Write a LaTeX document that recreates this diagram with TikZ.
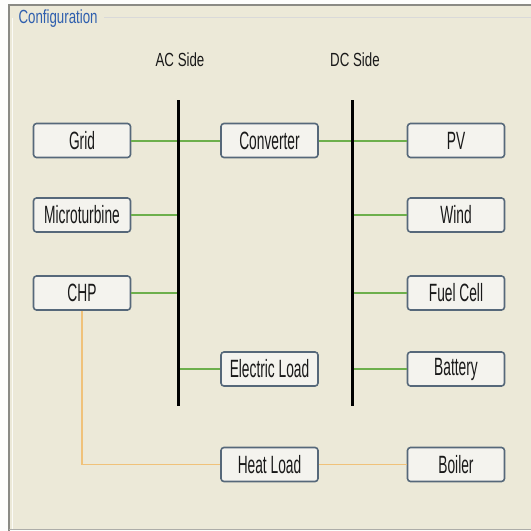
\documentclass[tikz,border=0pt]{standalone}
\usepackage{fontspec}
\setmainfont{Liberation Sans}
\newfontfamily\boxfont[FakeStretch=0.55]{Liberation Sans}
\newfontfamily\hdrfont[FakeStretch=0.7]{Liberation Sans}
\definecolor{panelbg}{HTML}{ECE9D8}
\definecolor{frameline}{HTML}{8A8A84}
\definecolor{boxedge}{HTML}{56687A}
\definecolor{boxfill}{HTML}{F4F3EE}
\definecolor{elecline}{HTML}{6DAF4C}
\definecolor{heatline}{HTML}{F0C27A}
\definecolor{titleblue}{HTML}{2F5FAE}
\tikzset{
  compbox/.style={draw=boxedge, line width=1.6pt, fill=boxfill, rounded corners=3pt,
    minimum width=97pt, minimum height=34pt, inner sep=0pt,
    font=\boxfont\fontsize{25}{25}\selectfont, text=black!90},
  sidelabel/.style={font=\hdrfont\fontsize{19}{19}\selectfont, text=black!90},
  busline/.style={line width=3pt, black},
  elec/.style={elecline, line width=2pt},
  heat/.style={heatline, line width=1.8pt},
}
\begin{document}
\begin{tikzpicture}[x=1pt, y=-1pt]
  % panel background and window frame
  \useasboundingbox (0,0) rectangle (531,531);
  \fill[white!92!panelbg] (0,0) rectangle (531,531);
  \fill[panelbg] (9,5) rectangle (531,529);
  \draw[frameline, line width=2pt] (9,531) -- (9,5) -- (531,5);
  \draw[frameline!70, line width=1pt] (9,529.5) -- (531,529.5);
  \draw[white!80!panelbg, line width=1pt] (12,529) -- (12,18);
  \draw[white!70!gray, line width=1pt] (104,17.5) -- (531,17.5);
  \node[font=\hdrfont\fontsize{19}{19}\selectfont, text=titleblue, anchor=west] (cfg) at (15,19) {Configuration};

  % side headings
  \node[sidelabel] (acside) at (180,60) {AC Side};
  \node[sidelabel] (dcside) at (355,60) {DC Side};

  % bus end points
  \coordinate (acTop) at (178,100);
  \coordinate (acBot) at (178,406);
  \coordinate (dcTop) at (352,100);
  \coordinate (dcBot) at (352,406);

  % components
  \node[compbox] (grid)  at (82,140.5) {Grid};
  \node[compbox] (micro) at (82,215)   {Microturbine};
  \node[compbox] (chp)   at (82,293)   {CHP};
  \node[compbox] (conv)  at (269.5,140.5) {Converter};
  \node[compbox] (eload) at (269.5,369)   {Electric Load};
  \node[compbox] (hload) at (269.5,464.5) {Heat Load};
  \node[compbox] (pv)    at (456,140.5) {PV};
  \node[compbox] (wind)  at (456,215)   {Wind};
  \node[compbox] (fuel)  at (456,293)   {Fuel Cell};
  \node[compbox] (batt)  at (456,369)   {Battery};
  \node[compbox] (boil)  at (456,464.5) {Boiler};

  % electrical links to the buses
  \draw[elec] (grid.east)  -- (grid.east -| acTop);
  \draw[elec] (micro.east) -- (micro.east -| acTop);
  \draw[elec] (chp.east)   -- (chp.east -| acTop);
  \draw[elec] (conv.west)  -- (conv.west -| acTop);
  \draw[elec] (eload.west) -- (eload.west -| acTop);
  \draw[elec] (conv.east)  -- (conv.east -| dcTop);
  \draw[elec] (pv.west)    -- (pv.west -| dcTop);
  \draw[elec] (wind.west)  -- (wind.west -| dcTop);
  \draw[elec] (fuel.west)  -- (fuel.west -| dcTop);
  \draw[elec] (batt.west)  -- (batt.west -| dcTop);

  % thermal links
  \draw[heat] (chp.south) |- (hload.west);
  \draw[heat] (hload.east) -- (boil.west);

  % AC and DC buses
  \draw[busline] (acTop) -- (acBot);
  \draw[busline] (dcTop) -- (dcBot);
\end{tikzpicture}
\end{document}
